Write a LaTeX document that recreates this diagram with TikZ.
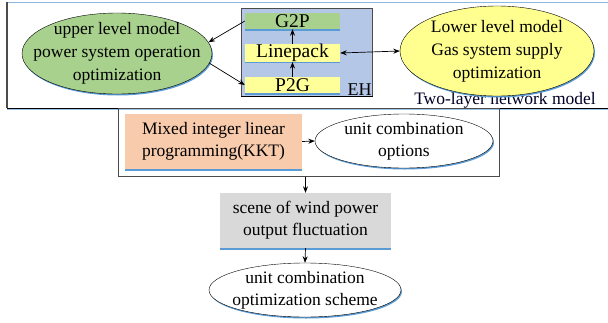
\documentclass[tikz,border=0pt]{standalone}
\usepackage{fontspec}
\setmainfont{Liberation Serif}
\usetikzlibrary{shapes.geometric,shadows,arrows.meta}

\definecolor{ehblue}{HTML}{B4C7E7}
\definecolor{upgreen}{HTML}{A9D18E}
\definecolor{lowyellow}{HTML}{FFFF8F}
\definecolor{baryellow}{HTML}{FFFF99}
\definecolor{kktorange}{HTML}{F8CBAD}
\definecolor{scenegray}{HTML}{D9D9D9}
\definecolor{shadeblue}{HTML}{5B9BD5}

\begin{document}
\begin{tikzpicture}[
    x=1pt, y=-1pt,
    bigtext/.style={font=\fontsize{17.5}{23}\selectfont},
    midtext/.style={font=\fontsize{17.5}{22}\selectfont},
    ehtext/.style={font=\fontsize{19.5}{22}\selectfont},
    blueshadow/.style={drop shadow={shadow xshift=1pt, shadow yshift=-1.5pt, fill=shadeblue, opacity=1}},
    lineshadow/.style={drop shadow={shadow xshift=0pt, shadow yshift=-1.5pt, fill=shadeblue, opacity=1}},
    oval/.style={ellipse, draw, thin, inner xsep=-20pt, inner ysep=-4pt, align=center, blueshadow},
    bar/.style={rectangle, minimum width=95pt, minimum height=16pt, inner sep=0pt, ehtext, lineshadow},
    block/.style={rectangle, inner sep=0pt, align=center, midtext, lineshadow},
    arrow/.style={-{Stealth[length=6.5pt, width=5pt]}, line width=0.7pt},
    dblarrow/.style={{Stealth[length=6.5pt, width=5pt]}-{Stealth[length=6.5pt, width=5pt]}, line width=0.7pt}
]
    \useasboundingbox (0,0) rectangle (608,322);

    % Two-layer frame
    \draw[shadeblue!70, thin] (7,2) -- (608,2);
    \draw[black!70, line width=1.2pt] (7,2) -- (7,108);
    \draw[shadeblue!60, line width=1pt] (7,109.5) -- (608,109.5);
    \draw[black, thin] (7,108) -- (608,108);
    \node[midtext, anchor=base, text=black!85!blue] (twolayer) at (505,104.5) {Two-layer network model};

    % Upper level model
    \node[oval, bigtext, fill=upgreen, minimum width=190pt, minimum height=81pt] (upper) at (117,53.5)
        {upper level model\\power system operation\\optimization};

    % Energy hub
    \node[rectangle, draw=black!70, line width=0.8pt, fill=ehblue, minimum width=131pt, minimum height=88pt, inner sep=0pt] (eh) at (307,52) {};
    \draw[black, line width=1pt] (eh.south west) -- (eh.south east);
    \node[font=\fontsize{18}{20}\selectfont, anchor=south east, inner sep=1pt] (ehlabel) at (eh.south east) {EH};
    \node[bar, fill=upgreen] (g2p) at (292.5,21) {G2P};
    \node[bar, fill=baryellow] (lp) at (292.5,53) {Linepack};
    \node[bar, fill=baryellow] (p2g) at (292.5,85) {P2G};

    % Lower level model
    \node[oval, bigtext, fill=lowyellow, minimum width=194pt, minimum height=90pt] (lower) at (497,51)
        {Lower level model\\Gas system supply\\optimization};

    % Solution frame
    \node[rectangle, draw=black!70, line width=1pt, minimum width=381pt, minimum height=68pt, inner sep=0pt] (solve) at (308.5,142) {};
    \node[block, fill=kktorange, minimum width=177pt, minimum height=55pt] (kkt) at (213.5,141.5)
        {Mixed integer linear\\programming(KKT)};
    \node[oval, midtext, fill=white, minimum width=178pt, minimum height=54pt] (options) at (404,141)
        {unit combination\\options};

    % Scene and result
    \node[block, fill=scenegray, minimum width=171pt, minimum height=55pt] (scene) at (305.5,220.5)
        {scene of wind power\\output fluctuation};
    \node[oval, midtext, fill=white, minimum width=192pt, minimum height=54pt] (scheme) at (305,290)
        {unit combination\\optimization scheme};

    % Arrows
    \draw[arrow] (g2p.west) -- (upper.7);
    \draw[arrow] (upper.-6) -- (p2g.west);
    \draw[arrow] (p2g.north) -- (lp.south);
    \draw[arrow] (lp.north) -- (g2p.south);
    \draw[dblarrow] (lp.east) -- (lower.west);
    \draw[arrow] (kkt.east) -- (options.west);
    \draw[arrow] (scene.north |- solve.south) -- (scene.north);
    \draw[arrow] (scene.south) -- (scheme.north);
\end{tikzpicture}
\end{document}
